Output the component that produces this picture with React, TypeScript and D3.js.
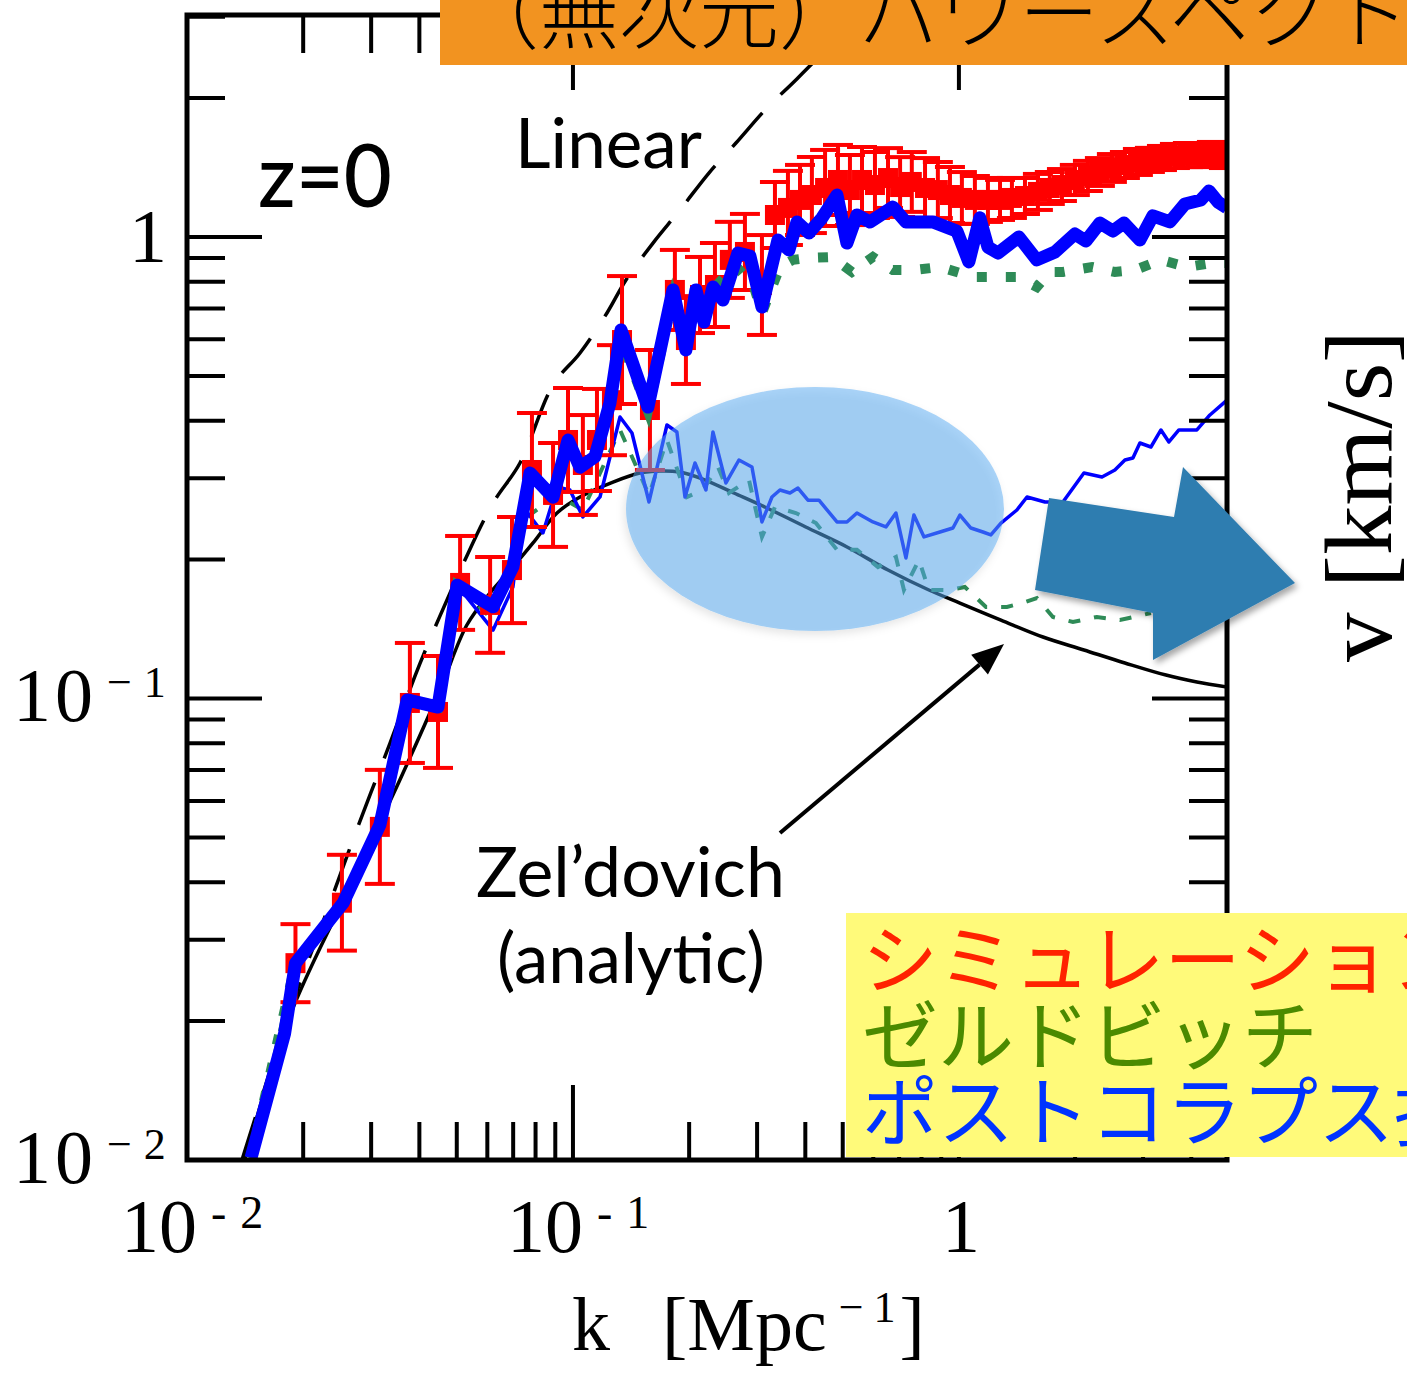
import * as d3 from "d3";

// plot box in page pixels
const MARGIN = { left: 187, right: 1227, top: 15, bottom: 1160 };
const K_DOMAIN: [number, number] = [0.01, 4.95];
const V_DOMAIN: [number, number] = [0.01, 3.027];

// post-collapse perturbation (thick blue)
const postK = [0.01465, 0.0179, 0.0191, 0.0254, 0.0316, 0.0372, 0.0447, 0.0501, 0.0621, 0.0699, 0.0774, 0.0888, 0.0971, 0.1043, 0.114, 0.1247, 0.1332, 0.1564, 0.1816, 0.1962, 0.2083, 0.2185, 0.2305, 0.2447, 0.2676, 0.2874, 0.3088, 0.3397, 0.3628, 0.3805, 0.4087, 0.4418, 0.4831, 0.5127, 0.5442, 0.5881, 0.6745, 0.729, 0.856, 0.988, 1.061, 1.133, 1.189, 1.262, 1.43, 1.592, 1.774, 1.997, 2.133, 2.319, 2.506, 2.676, 2.944, 3.181, 3.521, 3.85, 4.236, 4.444, 4.688, 4.948];
const postV = [0.0101, 0.0188, 0.0267, 0.0361, 0.0532, 0.0993, 0.0958, 0.176, 0.158, 0.193, 0.308, 0.273, 0.363, 0.317, 0.334, 0.437, 0.629, 0.428, 0.768, 0.569, 0.768, 0.654, 0.779, 0.73, 0.923, 0.909, 0.705, 0.985, 0.937, 1.078, 1.02, 1.1, 1.233, 0.97, 1.116, 1.078, 1.161, 1.078, 1.078, 1.03, 0.883, 1.1, 0.951, 0.923, 1.0, 0.892, 0.928, 1.015, 0.98, 1.072, 1.03, 1.072, 0.985, 1.111, 1.078, 1.179, 1.203, 1.258, 1.191, 1.156];

// post-collapse perturbation, second curve (thin blue)
const postThinK = [0.01465, 0.0179, 0.0191, 0.0254, 0.0316, 0.0372, 0.0447, 0.0501, 0.0621, 0.0699, 0.0742, 0.0836, 0.0909, 0.0982, 0.1061, 0.1175, 0.1324, 0.1422, 0.1574, 0.1752, 0.1859, 0.1951, 0.2071, 0.2211, 0.2305, 0.2491, 0.2692, 0.2909, 0.3088, 0.3278, 0.3438, 0.365, 0.3828, 0.4063, 0.4339, 0.4831, 0.5127, 0.5442, 0.5987, 0.647, 0.6868, 0.729, 0.7645, 0.812, 0.893, 0.965, 1.006, 1.074, 1.154, 1.21, 1.285, 1.413, 1.501, 1.671, 1.86, 2.108, 2.348, 2.536, 2.692, 2.824, 2.944, 3.144, 3.338, 3.5, 3.715, 4.136, 4.47, 4.95];
const postThinV = [0.0101, 0.0188, 0.0267, 0.0361, 0.0532, 0.0993, 0.0958, 0.176, 0.1407, 0.1744, 0.26, 0.2284, 0.2873, 0.283, 0.2474, 0.2733, 0.4074, 0.3761, 0.2666, 0.3914, 0.378, 0.2733, 0.3238, 0.283, 0.378, 0.2931, 0.3287, 0.3174, 0.2413, 0.2733, 0.283, 0.2788, 0.2858, 0.269, 0.269, 0.2413, 0.2413, 0.2523, 0.2413, 0.2353, 0.2523, 0.2016, 0.2498, 0.2239, 0.2295, 0.2341, 0.2498, 0.2341, 0.2295, 0.2261, 0.24, 0.2561, 0.2733, 0.2666, 0.2666, 0.3081, 0.302, 0.3127, 0.3287, 0.332, 0.3578, 0.3507, 0.3818, 0.3596, 0.3818, 0.3818, 0.4115, 0.443];

// Zel'dovich (thick green dots)
const zelK = [0.01465, 0.0191, 0.0254, 0.0316, 0.0372, 0.0447, 0.0501, 0.0621, 0.0699, 0.0774, 0.0888, 0.0971, 0.1043, 0.114, 0.1247, 0.1332, 0.1564, 0.1816, 0.1962, 0.2133, 0.2305, 0.2629, 0.2944, 0.3088, 0.3438, 0.3715, 0.4063, 0.4688, 0.5282, 0.5987, 0.6745, 0.7645, 0.893, 1.006, 1.107, 1.247, 1.413, 1.592, 1.721, 1.86, 2.212, 2.536, 2.858, 3.338, 3.896, 4.523, 4.95];
const zelV = [0.0101, 0.0267, 0.0361, 0.0532, 0.0993, 0.0958, 0.176, 0.158, 0.193, 0.308, 0.273, 0.363, 0.317, 0.334, 0.437, 0.6, 0.42, 0.74, 0.598, 0.7487, 0.7678, 0.8698, 0.7794, 0.6844, 0.861, 0.892, 0.9006, 0.905, 0.84, 0.905, 0.848, 0.848, 0.861, 0.8356, 0.819, 0.819, 0.819, 0.7794, 0.84, 0.84, 0.861, 0.84, 0.848, 0.892, 0.861, 0.8785, 0.8785];

// Zel'dovich, second curve (thin green dashes)
const zelThinK = [0.01465, 0.0191, 0.0254, 0.0316, 0.0372, 0.0447, 0.0501, 0.0621, 0.0742, 0.0909, 0.1061, 0.1324, 0.1574, 0.1752, 0.1974, 0.217, 0.2375, 0.2536, 0.2858, 0.3088, 0.3337, 0.378, 0.4261, 0.4831, 0.5442, 0.617, 0.6868, 0.7203, 0.7878, 0.836, 0.948, 1.036, 1.175, 1.332, 1.456, 1.592, 1.752, 1.974, 2.278, 2.613, 3.144];
const zelThinV = [0.0101, 0.0267, 0.0361, 0.0532, 0.0993, 0.0958, 0.176, 0.1479, 0.2437, 0.2761, 0.2561, 0.3818, 0.2761, 0.3632, 0.2733, 0.283, 0.3174, 0.2788, 0.2975, 0.2239, 0.26, 0.2523, 0.24, 0.21, 0.21, 0.1927, 0.2026, 0.1718, 0.1996, 0.1718, 0.1718, 0.1744, 0.1579, 0.1579, 0.161, 0.1651, 0.1502, 0.1465, 0.1502, 0.1479, 0.1532];

// Zel'dovich analytic (thin black)
const analyticK = [0.0141, 0.0185, 0.0254, 0.0356, 0.0452, 0.0531, 0.061, 0.0699, 0.0788, 0.0909, 0.1043, 0.127, 0.149, 0.168, 0.189, 0.217, 0.261, 0.314, 0.401, 0.513, 0.655, 0.836, 1.006, 1.285, 1.651, 2.108, 2.692, 3.439, 4.136, 4.95];
const analyticV = [0.01, 0.0206, 0.0366, 0.0666, 0.1043, 0.1443, 0.1693, 0.1927, 0.2173, 0.2523, 0.2733, 0.2945, 0.3081, 0.3112, 0.3096, 0.2989, 0.2788, 0.26, 0.2353, 0.213, 0.1898, 0.1718, 0.161, 0.1479, 0.1359, 0.1274, 0.1194, 0.1124, 0.1086, 0.1059];

// linear theory (black dashes)
const linearK = [0.01388, 0.0185, 0.0231, 0.0277, 0.0336, 0.0402, 0.0525, 0.0621, 0.0729, 0.0888, 0.1043, 0.1225, 0.1372, 0.1612, 0.1893, 0.225, 0.2644, 0.318, 0.378, 0.463, 0.538];
const linearV = [0.01, 0.0211, 0.0348, 0.0527, 0.0801, 0.1194, 0.1996, 0.2652, 0.3238, 0.4779, 0.5607, 0.6844, 0.807, 0.97, 1.144, 1.376, 1.598, 1.903, 2.189, 2.606, 3.027];

// simulation (red points, error given as a multiplicative factor)
const simK = [0.0191, 0.0252, 0.0316, 0.0378, 0.0447, 0.051, 0.061, 0.0695, 0.0783, 0.0888, 0.0971, 0.1061, 0.1154, 0.1262, 0.134, 0.1583, 0.1837, 0.1962, 0.2134, 0.2333, 0.255, 0.279, 0.3088, 0.3337, 0.3606, 0.3875, 0.416, 0.45, 0.486, 0.522, 0.561, 0.606, 0.655, 0.704, 0.755, 0.817, 0.882, 0.948, 1.018, 1.1, 1.189, 1.278, 1.372, 1.483, 1.602, 1.72, 1.849, 1.997, 2.159, 2.319, 2.491, 2.692, 2.909, 3.125, 3.358, 3.628, 3.92, 4.21, 4.523, 4.86];
const simV = [0.0267, 0.0361, 0.0527, 0.0978, 0.0935, 0.178, 0.1595, 0.1898, 0.3127, 0.2761, 0.3632, 0.3206, 0.3632, 0.443, 0.598, 0.4218, 0.7678, 0.598, 0.7487, 0.787, 0.892, 0.928, 0.787, 1.116, 1.156, 1.203, 1.233, 1.277, 1.329, 1.264, 1.329, 1.296, 1.342, 1.283, 1.316, 1.277, 1.264, 1.233, 1.215, 1.203, 1.203, 1.203, 1.215, 1.227, 1.252, 1.277, 1.296, 1.329, 1.356, 1.383, 1.411, 1.432, 1.454, 1.469, 1.483, 1.498, 1.505, 1.505, 1.513, 1.498];
const simErr = [1.215, 1.27, 1.329, 1.349, 1.322, 1.264, 1.27, 1.303, 1.329, 1.296, 1.296, 1.283, 1.29, 1.316, 1.376, 1.349, 1.221, 1.245, 1.209, 1.233, 1.209, 1.209, 1.283, 1.179, 1.203, 1.191, 1.209, 1.209, 1.191, 1.191, 1.179, 1.179, 1.161, 1.161, 1.161, 1.161, 1.15, 1.15, 1.138, 1.127, 1.116, 1.105, 1.105, 1.094, 1.094, 1.083, 1.083, 1.078, 1.078, 1.072, 1.072, 1.067, 1.067, 1.062, 1.062, 1.062, 1.062, 1.062, 1.062, 1.062];

// ticks and labels
const xMajorTicks = [0.01, 0.1, 1];
const yMajorTicks = [0.01, 0.1, 1];
const tickMultipliers = [2, 3, 4, 5, 6, 7, 8, 9];
const xTickLabels = [
  { value: 0.01, base: "10", exp: "-2" },
  { value: 0.1, base: "10", exp: "-1" },
  { value: 1, base: "1", exp: "" },
];
const yTickLabels = [
  { value: 0.01, base: "10", exp: "−2" },
  { value: 0.1, base: "10", exp: "−1" },
  { value: 1, base: "1", exp: "" },
];

const bannerText = "（無次元）パワースペクトル";
const legendLines = ["シミュレーション", "ゼルドビッチ", "ポストコラプス摂動"];
const legendColors = ["#ff2200", "#4b8a00", "#0033ff"];

const SERIF = "'Liberation Serif', 'Times New Roman', serif";
const SANS = "Lato, 'Open Sans', sans-serif";
const CJK = "'Noto Sans CJK JP', 'Noto Sans CJK SC', sans-serif";

const MAJOR = 75;
const MINOR = 38;

const zip = (ks: number[], vs: number[]) =>
  ks.map((k, i) => [k, vs[i]] as [number, number]);

export default function App() {
  const x = d3.scaleLog().domain(K_DOMAIN).range([MARGIN.left, MARGIN.right]);
  const y = d3.scaleLog().domain(V_DOMAIN).range([MARGIN.bottom, MARGIN.top]);

  const straight = d3
    .line<[number, number]>()
    .x((d) => x(d[0]))
    .y((d) => y(d[1]));
  const smooth = d3
    .line<[number, number]>()
    .x((d) => x(d[0]))
    .y((d) => y(d[1]))
    .curve(d3.curveCatmullRom.alpha(0.5));

  const minor = (majors: number[], max: number) =>
    majors.flatMap((m) => tickMultipliers.map((t) => t * m)).filter((v) => v <= max * 1.001);
  const xMinor = minor(xMajorTicks, K_DOMAIN[1]);
  const yMinor = minor(yMajorTicks, V_DOMAIN[1]);

  // black pointer arrow toward the analytic curve
  const from = [780, 833];
  const tip = [1004, 644];
  const dx = tip[0] - from[0];
  const dy = tip[1] - from[1];
  const len = Math.hypot(dx, dy);
  const ux = dx / len;
  const uy = dy / len;
  const bx = tip[0] - 32 * ux;
  const by = tip[1] - 32 * uy;
  const head = `${tip[0]},${tip[1]} ${bx - 13 * uy},${by + 13 * ux} ${bx + 13 * uy},${by - 13 * ux}`;

  const tickStroke = { stroke: "#000", strokeWidth: 4 };

  return (
    <svg
      width={1407}
      height={1373}
      style={{ position: "absolute", left: 0, top: 0, background: "#fff" }}
    >
      <defs>
        <clipPath id="plot-clip">
          <rect
            x={MARGIN.left}
            y={MARGIN.top}
            width={MARGIN.right - MARGIN.left}
            height={MARGIN.bottom - MARGIN.top}
          />
        </clipPath>
        <filter id="soft-shadow" x="-20%" y="-20%" width="140%" height="140%">
          <feDropShadow dx={-2} dy={4} stdDeviation={4} floodColor="#000" floodOpacity={0.2} />
        </filter>
        <filter id="arrow-shadow" x="-20%" y="-20%" width="140%" height="140%">
          <feDropShadow dx={3} dy={4} stdDeviation={3} floodColor="#000" floodOpacity={0.35} />
        </filter>
      </defs>

      <rect width={1407} height={1373} fill="#fff" />

      <g clipPath="url(#plot-clip)">
        <path d={smooth(zip(analyticK, analyticV)) ?? ""} fill="none" stroke="#000" strokeWidth={3.5} />
        <path
          d={smooth(zip(linearK, linearV)) ?? ""}
          fill="none"
          stroke="#000"
          strokeWidth={3.5}
          strokeDasharray="45 26"
        />
        <path
          d={straight(zip(zelThinK, zelThinV)) ?? ""}
          fill="none"
          stroke="#2e8b57"
          strokeWidth={4}
          strokeDasharray="12 14"
        />
        <path
          d={straight(zip(postThinK, postThinV)) ?? ""}
          fill="none"
          stroke="#0000ff"
          strokeWidth={3.5}
          strokeLinejoin="round"
        />
        {simK.map((k, i) => {
          const cx = x(k);
          const yc = y(simV[i]);
          const yHi = y(simV[i] * simErr[i]);
          const yLo = y(simV[i] / simErr[i]);
          return (
            <g key={i} stroke="#ff0000" strokeWidth={4}>
              <line x1={cx} x2={cx} y1={yHi} y2={yLo} />
              <line x1={cx - 15} x2={cx + 15} y1={yHi} y2={yHi} />
              <line x1={cx - 15} x2={cx + 15} y1={yLo} y2={yLo} />
              <rect x={cx - 10} y={yc - 10} width={20} height={20} fill="#ff0000" stroke="none" />
            </g>
          );
        })}
        <path
          d={straight(zip(zelK, zelV)) ?? ""}
          fill="none"
          stroke="#2e8b57"
          strokeWidth={10}
          strokeDasharray="10 19"
        />
        <path
          d={straight(zip(postK, postV)) ?? ""}
          fill="none"
          stroke="#0000ff"
          strokeWidth={13}
          strokeLinejoin="round"
        />
      </g>

      {/* highlight */}
      <ellipse
        cx={815}
        cy={509}
        rx={189}
        ry={122}
        fill="#55aaf1"
        fillOpacity={0.5}
        filter="url(#soft-shadow)"
      />

      {/* frame and ticks */}
      <rect
        x={MARGIN.left}
        y={MARGIN.top}
        width={MARGIN.right - MARGIN.left}
        height={MARGIN.bottom - MARGIN.top}
        fill="none"
        stroke="#000"
        strokeWidth={5}
      />
      {[...xMajorTicks.map((v) => [v, MAJOR]), ...xMinor.map((v) => [v, MINOR])].map(([v, l], i) => (
        <g key={`xt${i}`} {...tickStroke}>
          <line x1={x(v)} x2={x(v)} y1={MARGIN.bottom} y2={MARGIN.bottom - l} />
          <line x1={x(v)} x2={x(v)} y1={MARGIN.top} y2={MARGIN.top + l} />
        </g>
      ))}
      {[...yMajorTicks.map((v) => [v, MAJOR]), ...yMinor.map((v) => [v, MINOR])].map(([v, l], i) => (
        <g key={`yt${i}`} {...tickStroke}>
          <line x1={MARGIN.left} x2={MARGIN.left + l} y1={y(v)} y2={y(v)} />
          <line x1={MARGIN.right} x2={MARGIN.right - l} y1={y(v)} y2={y(v)} />
        </g>
      ))}

      {/* tick labels */}
      {xTickLabels.map((t) =>
        t.exp ? (
          <text key={t.value} x={x(t.value) - 66} y={1252} fontFamily={SERIF} fontSize={76}>
            {t.base}
            <tspan dx={14} dy={-24} fontSize={46} letterSpacing={14}>
              {t.exp}
            </tspan>
          </text>
        ) : (
          <text key={t.value} x={x(t.value) + 2} y={1252} fontFamily={SERIF} fontSize={76} textAnchor="middle">
            {t.base}
          </text>
        )
      )}
      {yTickLabels.map((t) =>
        t.exp ? (
          <text key={t.value} x={13} y={y(t.value) + 23} fontFamily={SERIF} fontSize={76} letterSpacing={4}>
            {t.base}
            <tspan dx={10} dy={-24} fontSize={44} letterSpacing={12}>
              {t.exp}
            </tspan>
          </text>
        ) : (
          <text key={t.value} x={129} y={y(t.value) + 25} fontFamily={SERIF} fontSize={76}>
            {t.base}
          </text>
        )
      )}

      {/* axis titles */}
      <text x={572} y={1350} fontFamily={SERIF} fontSize={76}>
        k
        <tspan dx={52}>[Mpc</tspan>
        <tspan dx={12} dy={-28} fontSize={44} letterSpacing={10}>
          −1
        </tspan>
        <tspan dx={-6} dy={28}>
          ]
        </tspan>
      </text>
      <text
        transform="translate(1391,662) rotate(-90)"
        fontFamily={SERIF}
        fontSize={96}
        textLength={332}
        lengthAdjust="spacingAndGlyphs"
      >
        v [km/s]
      </text>

      {/* annotations */}
      <text x={258} y={207} fontFamily={SANS} fontSize={86} fontWeight={500} textLength={134} lengthAdjust="spacingAndGlyphs">
        z=0
      </text>
      <text x={515} y={168} fontFamily={SANS} fontSize={70} textLength={187} lengthAdjust="spacingAndGlyphs">
        Linear
      </text>
      <text x={476} y={897} fontFamily={SANS} fontSize={70} textLength={309} lengthAdjust="spacingAndGlyphs">
        Zel’dovich
      </text>
      <text x={497} y={983} fontFamily={SANS} fontSize={70} textLength={268} lengthAdjust="spacingAndGlyphs">
        (analytic)
      </text>
      <line x1={from[0]} y1={from[1]} x2={bx} y2={by} stroke="#000" strokeWidth={4} />
      <polygon points={head} fill="#000" />

      <polygon
        points="1049,498 1174,517 1183,467 1295,583 1153,660 1153,613 1035,590"
        fill="#2f7db0"
        filter="url(#arrow-shadow)"
      />

      {/* title banner */}
      <rect x={440} y={0} width={967} height={65} fill="#f29320" />
      <text x={459} y={42} fontFamily={CJK} fontSize={80} fontWeight={300} fill="#000">
        {bannerText}
      </text>

      {/* legend box */}
      <rect x={846} y={913} width={561} height={244} fill="#fffa7a" />
      {legendLines.map((s, i) => (
        <text key={s} x={862} y={988 + i * 76} fontFamily={CJK} fontSize={76} fill={legendColors[i]}>
          {s}
        </text>
      ))}
    </svg>
  );
}
